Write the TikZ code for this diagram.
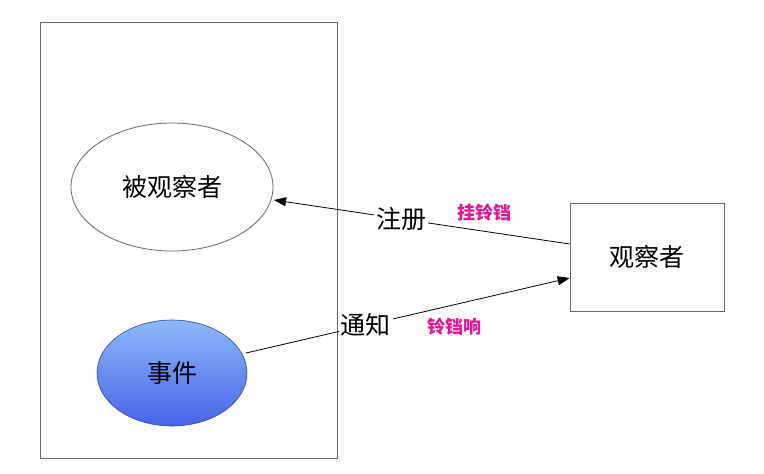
\documentclass[tikz,border=0pt]{standalone}
\usepackage{fontspec}
\setmainfont{Noto Sans CJK SC}
\usetikzlibrary{arrows.meta}
\definecolor{EvTop}{RGB}{140,185,250}
\definecolor{EvBot}{RGB}{70,100,232}
\definecolor{BellPink}{RGB}{230,20,150}

\begin{document}
\begin{tikzpicture}[x=1pt, y=-1pt]
    \tikzset{
        box/.style = {draw=black!60, line width=0.8pt},
        big/.style = {font=\fontsize{25}{28}\selectfont},
        lbl/.style = {big, fill=white, inner sep=2pt},
        bell/.style = {text=BellPink, font=\bfseries\fontsize{18}{20}\selectfont},
        conn/.style = {line width=0.8pt, -{Triangle[length=12pt,width=9pt]}}
    }
    \useasboundingbox (0,0) rectangle (764,474);

    \draw[box] (40,22) rectangle (337,458);
    \draw[box] (172,187) ellipse [x radius=101, y radius=64];
    \node[big] (obs) at (172,187) {被观察者};

    \shade[top color=EvTop, bottom color=EvBot, draw=EvBot!70!black, line width=0.6pt]
        (172,373) ellipse [x radius=75, y radius=53];
    \node[big] (ev) at (172,373) {事件};

    \node[box, big, minimum width=154pt, minimum height=108pt]
        (wat) at (647,257) {观察者};

    \coordinate (obsE) at (274,200);
    \coordinate (evE) at (246,353);
    \draw[conn] (wat.west |- 0,244) -- node[lbl, pos=0.57] (reg) {注册} (obsE);
    \draw[conn] (evE) -- node[lbl, pos=0.37] (ntf) {通知} (wat.west |- 0,278);

    \node[bell] (hang) at (484,213) {挂铃铛};
    \node[bell] (ring) at (454,327) {铃铛响};
\end{tikzpicture}
\end{document}
